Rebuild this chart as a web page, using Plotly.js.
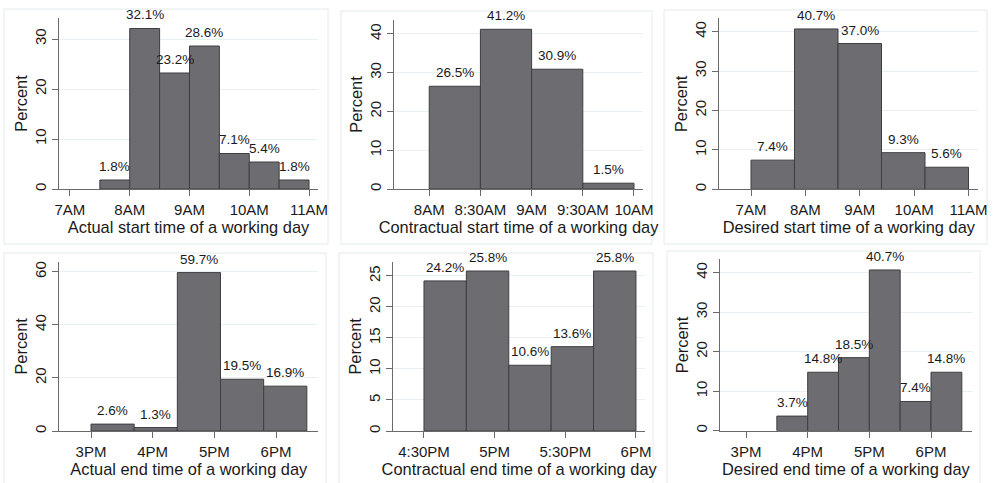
<!DOCTYPE html>
<html>
<head>
<meta charset="utf-8">
<script src="https://cdn.plot.ly/plotly-3.0.1.min.js"></script>
<style>html,body{margin:0;padding:0;background:#fff;}#chart{width:995px;height:483px;}</style>
</head>
<body>
<div id="chart"></div>
<script>
// ---- Data (hours of day as decimal; bins start at given values) ----
var actualStartBins = [7.5, 8.0, 8.5, 9.0, 9.5, 10.0, 10.5];
var actualStartPct  = [1.8, 32.1, 23.2, 28.6, 7.1, 5.4, 1.8];
var actualStartWidth = 0.5;

var contractStartBins = [8.0, 8.5, 9.0, 9.5];
var contractStartPct  = [26.5, 41.2, 30.9, 1.5];
var contractStartWidth = 0.5;

var desiredStartBins = [7.0, 7.8, 8.6, 9.4, 10.2];
var desiredStartPct  = [7.4, 40.7, 37.0, 9.3, 5.6];
var desiredStartWidth = 0.8;

var actualEndBins = [15.0, 15.7, 16.4, 17.1, 17.8];
var actualEndPct  = [2.6, 1.3, 59.7, 19.5, 16.9];
var actualEndWidth = 0.7;

var contractEndBins = [16.5, 16.8, 17.1, 17.4, 17.7];
var contractEndPct  = [24.2, 25.8, 10.6, 13.6, 25.8];
var contractEndWidth = 0.3;

var desiredEndBins = [15.5, 16.0, 16.5, 17.0, 17.5, 18.0];
var desiredEndPct  = [3.7, 14.8, 18.5, 40.7, 7.4, 14.8];
var desiredEndWidth = 0.5;

// Tick labels
var startTickVals = [7, 8, 9, 10, 11];
var startTickText = ['7AM', '8AM', '9AM', '10AM', '11AM'];
var contractStartTickVals = [8, 8.5, 9, 9.5, 10];
var contractStartTickText = ['8AM', '8:30AM', '9AM', '9:30AM', '10AM'];
var endTickVals = [15, 16, 17, 18];
var endTickText = ['3PM', '4PM', '5PM', '6PM'];
var contractEndTickVals = [16.5, 17, 17.5, 18];
var contractEndTickText = ['4:30PM', '5PM', '5:30PM', '6PM'];

var titles = [
  'Actual start time of a working day',
  'Contractual start time of a working day',
  'Desired start time of a working day',
  'Actual end time of a working day',
  'Contractual end time of a working day',
  'Desired end time of a working day'
];

// ---- Layout geometry (pixels) ----
var W = 995, H = 483;
var FONT = '"Liberation Sans", Arial, Helvetica, sans-serif';
var TXT = '#1a1a1a';
var AX = '#6a6a6a';
var GRID = '#e8f0f2';
var BORDER = '#e2eaec';
var BAR = '#6c6c71';
var BAROUT = '#3f3f42';

var panels = [
  {bins: actualStartBins, pct: actualStartPct, w: actualStartWidth,
   px: [59, 318], py: [18, 189], xr: [6.817, 11.15], yr: [0, 34.2],
   tv: startTickVals, tt: startTickText, ytv: [0, 10, 20, 30], box: [4, 9, 328, 244]},
  {bins: contractStartBins, pct: contractStartPct, w: contractStartWidth,
   px: [394, 643], py: [20, 189], xr: [7.656, 10.088], yr: [0, 43.6],
   tv: contractStartTickVals, tt: contractStartTickText, ytv: [0, 10, 20, 30, 40], box: [341, 11, 652, 244]},
  {bins: desiredStartBins, pct: desiredStartPct, w: desiredStartWidth,
   px: [719.3, 978.3], py: [18.3, 189.3], xr: [6.417, 11.18], yr: [0, 43.4],
   tv: startTickVals, tt: startTickText, ytv: [0, 10, 20, 30, 40], box: [664, 10, 987, 244]},
  {bins: actualEndBins, pct: actualEndPct, w: actualEndWidth,
   px: [59.3, 318.3], py: [261.7, 431], xr: [14.486, 18.686], yr: [0, 63.8],
   tv: endTickVals, tt: endTickText, ytv: [0, 20, 40, 60], box: [4, 253, 326, 490]},
  {bins: contractEndBins, pct: contractEndPct, w: contractEndWidth,
   px: [393.3, 645], py: [261.7, 431], xr: [16.283, 18.064], yr: [0, 27.3],
   tv: contractEndTickVals, tt: contractEndTickText, ytv: [0, 5, 10, 15, 20, 25], box: [339, 253, 653, 490]},
  {bins: desiredEndBins, pct: desiredEndPct, w: desiredEndWidth,
   px: [720, 971.7], py: [259.3, 430.7], xr: [14.578, 18.66], yr: [0, 43.4],
   tv: endTickVals, tt: endTickText, ytv: [0, 10, 20, 30, 40], box: [667, 251, 980, 490]}
];

var data = [];
var layout = {
  width: W, height: H,
  margin: {l: 0, r: 0, t: 0, b: 0, pad: 0},
  paper_bgcolor: '#ffffff', plot_bgcolor: '#ffffff',
  showlegend: false,
  font: {family: FONT, color: TXT},
  shapes: [],
  annotations: []
};

panels.forEach(function (p, i) {
  var n = i + 1;
  var sfx = (n === 1 ? '' : String(n));
  data.push({
    type: 'bar',
    x: p.bins,
    y: p.pct,
    width: p.bins.map(function () { return p.w; }),
    offset: 0,
    xaxis: 'x' + sfx,
    yaxis: 'y' + sfx,
    marker: {color: BAR, line: {color: BAROUT, width: 1}},
    cliponaxis: false,
    hoverinfo: 'skip'
  });
  // value labels centred above each bar
  p.bins.forEach(function (b, k) {
    layout.annotations.push({
      xref: 'x' + sfx, yref: 'y' + sfx,
      x: b + p.w / 2, y: p.pct[k],
      text: p.pct[k].toFixed(1) + '%',
      showarrow: false, xanchor: 'center', yanchor: 'bottom',
      yshift: 5, borderpad: 0,
      font: {family: FONT, size: 13.5, color: TXT}
    });
  });
  layout['xaxis' + sfx] = {
    domain: [p.px[0] / W, p.px[1] / W],
    anchor: 'y' + sfx,
    range: p.xr,
    tickmode: 'array', tickvals: p.tv, ticktext: p.tt,
    ticks: 'outside', ticklen: 6, tickwidth: 1, tickcolor: AX,
    showline: true, linecolor: AX, linewidth: 1,
    showgrid: false, zeroline: false,
    tickfont: {family: FONT, size: 15, color: TXT},
    ticklabelstandoff: 1,
    title: {text: titles[i], font: {family: FONT, size: 16.4, color: TXT}, standoff: 3},
    fixedrange: true
  };
  layout['yaxis' + sfx] = {
    domain: [1 - p.py[1] / H, 1 - p.py[0] / H],
    anchor: 'x' + sfx,
    range: p.yr,
    tickmode: 'array', tickvals: p.ytv,
    ticks: 'outside', ticklen: 6, tickwidth: 1, tickcolor: AX,
    showline: true, linecolor: AX, linewidth: 1,
    showgrid: true, gridcolor: GRID, gridwidth: 1,
    zeroline: false,
    tickangle: -90,
    tickfont: {family: FONT, size: 15, color: TXT},
    title: {text: 'Percent', font: {family: FONT, size: 16.4, color: TXT}, standoff: 0},
    fixedrange: true
  };
  layout.shapes.push({
    type: 'rect', xref: 'paper', yref: 'paper', layer: 'below',
    x0: p.box[0] / W, x1: p.box[2] / W,
    y0: 1 - p.box[3] / H, y1: 1 - p.box[1] / H,
    line: {color: BORDER, width: 1}, fillcolor: 'rgba(0,0,0,0)'
  });
});

Plotly.newPlot('chart', data, layout, {displayModeBar: false, staticPlot: true});
</script>
</body>
</html>
